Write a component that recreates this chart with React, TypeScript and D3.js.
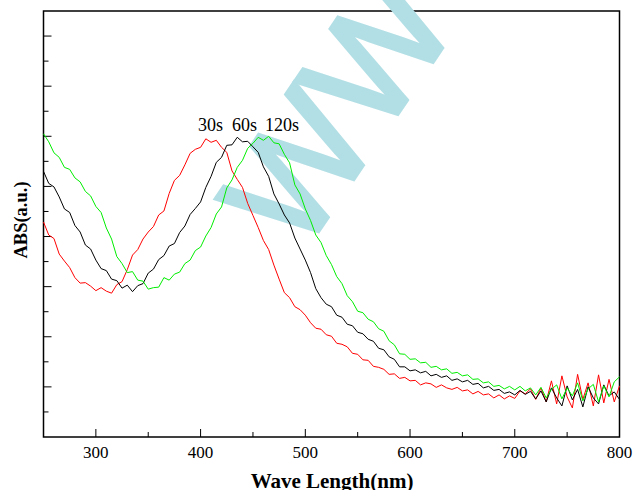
import React from "react";
import * as d3 from "d3";

const startNm = 250;
const stepNm = 5;

const red30s = [
  4.29, 4.03, 3.96, 3.65, 3.51, 3.38, 3.18, 3.07, 3.08, 3.01,
  2.92, 2.98, 2.91, 2.87, 3.04, 3.10, 3.34, 3.63, 3.74, 3.95,
  4.09, 4.20, 4.43, 4.51, 4.86, 5.12, 5.22, 5.43, 5.66, 5.74,
  5.78, 5.95, 5.88, 5.92, 5.78, 5.68, 5.31, 5.14, 4.98, 4.66,
  4.42, 4.18, 3.92, 3.74, 3.43, 3.15, 2.88, 2.78, 2.60, 2.54,
  2.43, 2.28, 2.17, 2.15, 2.04, 2.01, 1.87, 1.85, 1.80, 1.67,
  1.65, 1.54, 1.53, 1.41, 1.39, 1.35, 1.25, 1.26, 1.17, 1.19,
  1.12, 1.13, 1.04, 1.08, 1.06, 0.99, 1.04, 0.98, 0.95, 0.99,
  0.92, 0.94, 0.86, 0.91, 0.84, 0.86, 0.78, 0.84, 0.76, 0.82,
  0.77, 0.92, 0.86, 0.96, 0.75, 0.98, 0.70, 1.12, 0.66, 1.22,
  0.80, 0.58, 1.25, 0.75, 1.08, 0.62, 1.24, 0.68, 1.15, 0.70,
  1.02,
];

const black60s = [
  5.30, 5.06, 4.99, 4.79, 4.55, 4.48, 4.22, 4.09, 3.83, 3.75,
  3.53, 3.36, 3.32, 3.15, 3.12, 2.97, 3.03, 2.90, 3.02, 3.06,
  3.27, 3.35, 3.54, 3.62, 3.81, 3.86, 4.08, 4.21, 4.44, 4.56,
  4.69, 4.98, 5.20, 5.48, 5.58, 5.82, 5.83, 5.98, 5.89, 5.90,
  5.79, 5.68, 5.39, 5.20, 4.85, 4.65, 4.43, 4.27, 3.97, 3.75,
  3.53, 3.28, 2.96, 2.78, 2.65, 2.60, 2.43, 2.39, 2.25, 2.22,
  2.09, 2.06, 1.95, 1.91, 1.77, 1.74, 1.60, 1.55, 1.40, 1.40,
  1.32, 1.34, 1.28, 1.31, 1.22, 1.25, 1.19, 1.22, 1.13, 1.16,
  1.10, 1.13, 1.05, 1.07, 0.98, 1.01, 0.93, 0.95, 0.87, 0.90,
  0.84, 0.93, 0.85, 0.91, 0.76, 0.92, 0.70, 0.98, 0.78, 0.62,
  1.02, 0.74, 0.95, 0.60, 1.00, 0.78, 0.66, 1.04, 0.82, 0.90,
  0.75,
];

const green120s = [
  6.05, 5.89, 5.67, 5.58, 5.38, 5.34, 5.17, 5.09, 4.90, 4.81,
  4.60, 4.48, 4.17, 3.95, 3.60, 3.46, 3.28, 3.30, 3.13, 3.11,
  2.95, 2.98, 2.99, 3.18, 3.13, 3.25, 3.29, 3.46, 3.53, 3.72,
  3.79, 4.01, 4.18, 4.45, 4.59, 4.97, 5.13, 5.38, 5.52, 5.76,
  5.86, 5.98, 5.92, 6.00, 5.87, 5.85, 5.64, 5.47, 5.03, 4.85,
  4.55, 4.32, 4.03, 3.88, 3.62, 3.44, 3.20, 3.06, 2.82, 2.70,
  2.51, 2.48, 2.35, 2.30, 2.16, 2.11, 1.92, 1.84, 1.66, 1.65,
  1.55, 1.56, 1.48, 1.49, 1.39, 1.41, 1.34, 1.36, 1.27, 1.29,
  1.22, 1.24, 1.15, 1.16, 1.08, 1.10, 1.01, 1.03, 0.96, 1.01,
  0.94, 1.01, 0.92, 0.98, 0.84, 0.99, 0.78, 0.95, 1.04, 0.76,
  0.98, 0.82, 1.08, 0.72, 0.96, 1.05, 0.70, 1.02, 0.80, 1.10,
  1.20,
];

const seriesList = [
  { name: "30s", values: red30s, color: "#ff0000" },
  { name: "60s", values: black60s, color: "#000000" },
  { name: "120s", values: green120s, color: "#00ee00" },
];

const xTicks = [300, 400, 500, 600, 700, 800];
const xMinorTicks = [350, 450, 550, 650, 750];
const yMajorTicks = [1, 2, 3, 4, 5, 6, 7, 8];
const yMinorTicks = [0.5, 1.5, 2.5, 3.5, 4.5, 5.5, 6.5, 7.5];
const peakLabels = ["30s", "60s", "120s"];
const peakLabelX = [198, 232, 265];

export default function App() {
  const W = 635;
  const H = 490;
  const left = 43.5;
  const right = 619.5;
  const top = 11;
  const bottom = 437;

  const x = d3.scaleLinear().domain([250, 800]).range([left, right]);
  const y = d3.scaleLinear().domain([0, 8.5]).range([bottom, top]);

  const line = d3
    .line<number>()
    .x((_, i) => x(startNm + i * stepNm))
    .y((d) => y(d));

  const serif = "'Liberation Serif', 'Times New Roman', serif";

  return (
    <svg
      width={W}
      height={H}
      style={{ position: "absolute", left: 0, top: 0, background: "#fff" }}
    >
      <rect x={0} y={0} width={W} height={H} fill="#fff" />
      {/* frame */}
      <rect
        x={left}
        y={top}
        width={right - left}
        height={bottom - top}
        fill="none"
        stroke="#000"
        strokeWidth={1.5}
      />
      {/* ticks */}
      {yMajorTicks.map((t) => (
        <line key={"ym" + t} x1={left} x2={left + 8} y1={y(t)} y2={y(t)} stroke="#000" strokeWidth={1} />
      ))}
      {yMinorTicks.map((t) => (
        <line key={"yn" + t} x1={left} x2={left + 5} y1={y(t)} y2={y(t)} stroke="#000" strokeWidth={1} />
      ))}
      {xTicks.map((t) => (
        <line key={"xm" + t} x1={x(t)} x2={x(t)} y1={bottom} y2={bottom - 8} stroke="#000" strokeWidth={1} />
      ))}
      {xMinorTicks.map((t) => (
        <line key={"xn" + t} x1={x(t)} x2={x(t)} y1={bottom} y2={bottom - 5} stroke="#000" strokeWidth={1} />
      ))}
      {xTicks.map((t) => (
        <text key={"xl" + t} x={x(t)} y={458} textAnchor="middle" fontFamily={serif} fontSize={17} fill="#000">
          {t}
        </text>
      ))}
      {/* watermark */}
      <text
        transform="translate(301,257) rotate(-56)"
        fontFamily="'Liberation Sans', Arial, sans-serif"
        fontSize={150}
        fill="#b2dfe5"
        stroke="#b2dfe5"
        strokeWidth={4}
        strokeLinejoin="miter"
      >
        WWW
      </text>
      {/* curves */}
      {seriesList.map((s) => (
        <path key={s.name} d={line(s.values) || ""} fill="none" stroke={s.color} strokeWidth={1} />
      ))}
      {peakLabels.map((l, i) => (
        <text key={l} x={peakLabelX[i]} y={131} fontFamily={serif} fontSize={18} fill="#000">
          {l}
        </text>
      ))}
      {/* axis titles */}
      <text x={332} y={488} textAnchor="middle" fontFamily={serif} fontSize={21} fontWeight="bold" fill="#000">
        Wave Length(nm)
      </text>
      <text
        transform="translate(27,220) rotate(-90)"
        textAnchor="middle"
        fontFamily={serif}
        fontSize={18.5}
        fontWeight="bold"
        fill="#000"
      >
        ABS(a.u.)
      </text>
    </svg>
  );
}
